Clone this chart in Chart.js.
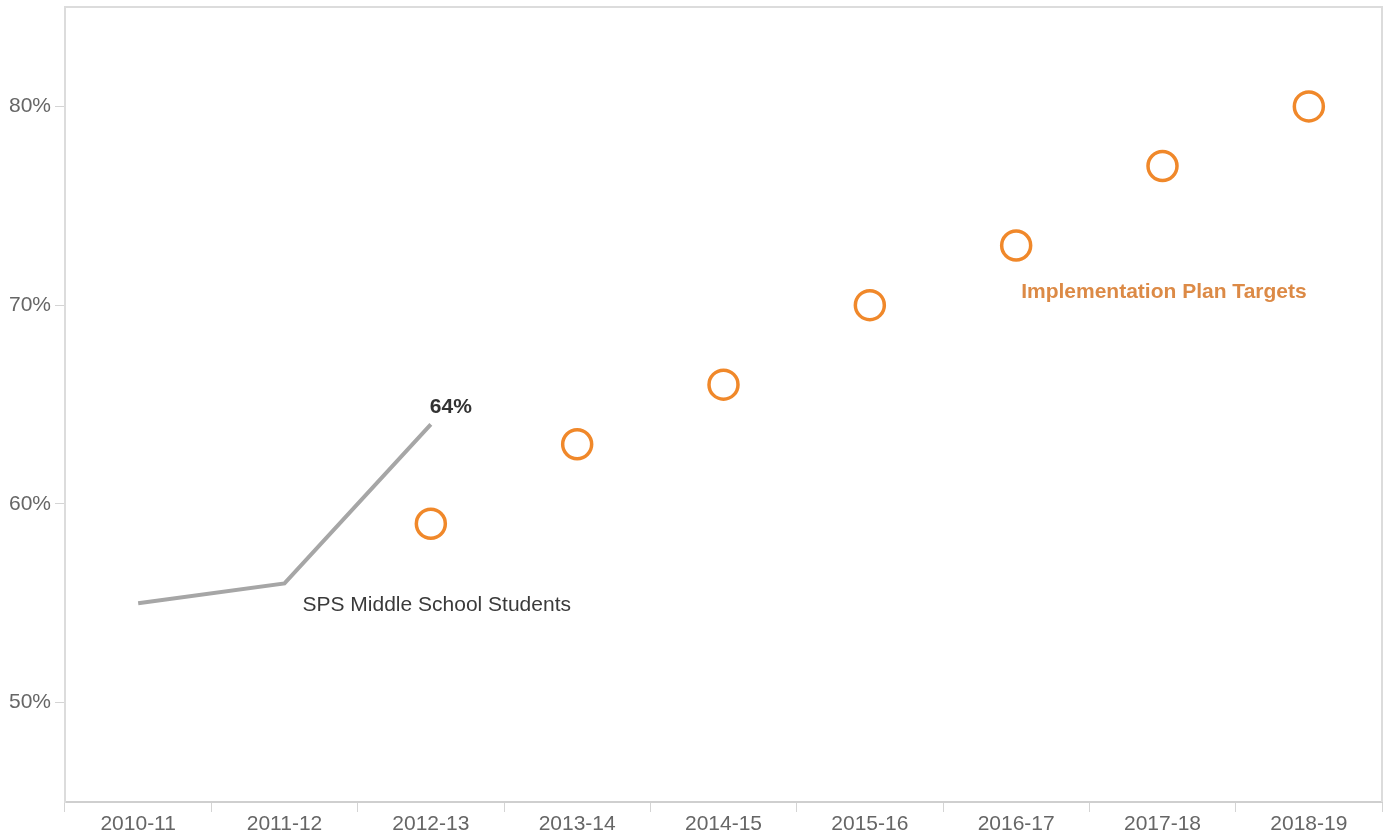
<!DOCTYPE html>
<html>
<head>
<meta charset="utf-8">
<title>SPS Middle School Students vs Implementation Plan Targets</title>
<script src="https://cdn.jsdelivr.net/npm/chart.js@4.4.1/dist/chart.umd.min.js"></script>
<style>
  html, body { margin: 0; padding: 0; background: #ffffff; }
  #wrap { width: 1391px; height: 837px; position: relative; }
</style>
</head>
<body>
<div id="wrap"><canvas id="chart" width="1391" height="837"></canvas></div>
<script>
// School years along the horizontal axis
const years = ['2010-11', '2011-12', '2012-13', '2013-14', '2014-15', '2015-16', '2016-17', '2017-18', '2018-19'];

// Actual results for SPS middle school students (percent)
const actualValues = [55, 56, 64, null, null, null, null, null, null];

// Implementation plan targets (percent)
const targetValues = [null, null, 59, 63, 66, 70, 73, 77, 80];

// Value axis range and labelled ticks
const yMin = 45;
const yMax = 85;
const yTickValues = [50, 60, 70, 80];

const FONT = '"Liberation Sans", Arial, "DejaVu Sans", sans-serif';

// Text annotations placed next to the data they describe
const annotations = {
  id: 'annotations',
  afterDatasetsDraw(chart) {
    const { ctx } = chart;
    const x = chart.scales.x;
    const y = chart.scales.y;
    ctx.save();
    ctx.textBaseline = 'middle';
    ctx.textAlign = 'left';

    // value label on the last actual point
    const lastIdx = actualValues.reduce((acc, v, i) => (v !== null ? i : acc), 0);
    const lastVal = actualValues[lastIdx];
    ctx.font = 'bold 21px ' + FONT;
    ctx.fillStyle = '#333333';
    ctx.fillText(lastVal + '%', x.getPixelForValue(lastIdx) - 1, y.getPixelForValue(lastVal) - 17);

    // series name under the actual line
    ctx.font = '21px ' + FONT;
    ctx.fillStyle = '#3a3a3a';
    ctx.fillText('SPS Middle School Students', x.getPixelForValue(1) + 18, y.getPixelForValue(actualValues[1]) + 22);

    // series name under the targets
    ctx.font = 'bold 21px ' + FONT;
    ctx.fillStyle = '#dc8a46';
    ctx.fillText('Implementation Plan Targets', x.getPixelForValue(6) + 5, y.getPixelForValue(targetValues[6]) + 47);

    ctx.restore();
  }
};

// Light frame on top and right of the plot area
const frame = {
  id: 'frame',
  beforeDatasetsDraw(chart) {
    const { ctx, chartArea: a } = chart;
    ctx.save();
    ctx.strokeStyle = '#dcdcdc';
    ctx.lineWidth = 2;
    ctx.beginPath();
    ctx.moveTo(a.left, a.top);
    ctx.lineTo(a.right, a.top);
    ctx.lineTo(a.right, a.bottom);
    ctx.stroke();
    ctx.restore();
  }
};

new Chart(document.getElementById('chart'), {
  type: 'line',
  data: {
    labels: years,
    datasets: [
      {
        label: 'SPS Middle School Students',
        data: actualValues,
        borderColor: '#a6a6a6',
        borderWidth: 4,
        pointRadius: 0,
        tension: 0,
        spanGaps: false,
        order: 2
      },
      {
        label: 'Implementation Plan Targets',
        data: targetValues,
        showLine: false,
        pointStyle: 'circle',
        pointRadius: 14.5,
        pointBorderWidth: 3.5,
        pointBorderColor: '#f0882a',
        pointBackgroundColor: 'rgba(255,255,255,0)',
        order: 1
      }
    ]
  },
  options: {
    responsive: false,
    animation: false,
    layout: { autoPadding: false, padding: { top: 7, right: 9, left: 0, bottom: 0 } },
    plugins: {
      legend: { display: false },
      tooltip: { enabled: false },
      title: { display: false }
    },
    scales: {
      x: {
        type: 'category',
        offset: true,
        grid: {
          offset: true,
          drawOnChartArea: false,
          drawTicks: true,
          tickLength: 10,
          color: '#d4d4d4',
          lineWidth: 1
        },
        border: { display: true, color: '#cfcfcf', width: 2 },
        ticks: {
          color: '#666666',
          font: { family: FONT, size: 21 },
          padding: 0,
          maxRotation: 0,
          autoSkip: false
        },
        afterFit(scale) {
          scale.height = 35;
          scale.paddingLeft = 0;
          scale.paddingRight = 0;
        }
      },
      y: {
        min: yMin,
        max: yMax,
        afterBuildTicks(scale) {
          scale.ticks = yTickValues.map(v => ({ value: v }));
        },
        grid: {
          drawOnChartArea: false,
          drawTicks: true,
          tickLength: 10,
          color: '#d4d4d4'
        },
        border: { display: true, color: '#dcdcdc', width: 2 },
        ticks: {
          color: '#666666',
          font: { family: FONT, size: 21 },
          padding: 4,
          callback: v => v + '%'
        },
        afterFit(scale) {
          scale.width = 65;
          scale.paddingTop = 0;
          scale.paddingBottom = 0;
        }
      }
    }
  },
  plugins: [frame, annotations]
});
</script>
</body>
</html>
